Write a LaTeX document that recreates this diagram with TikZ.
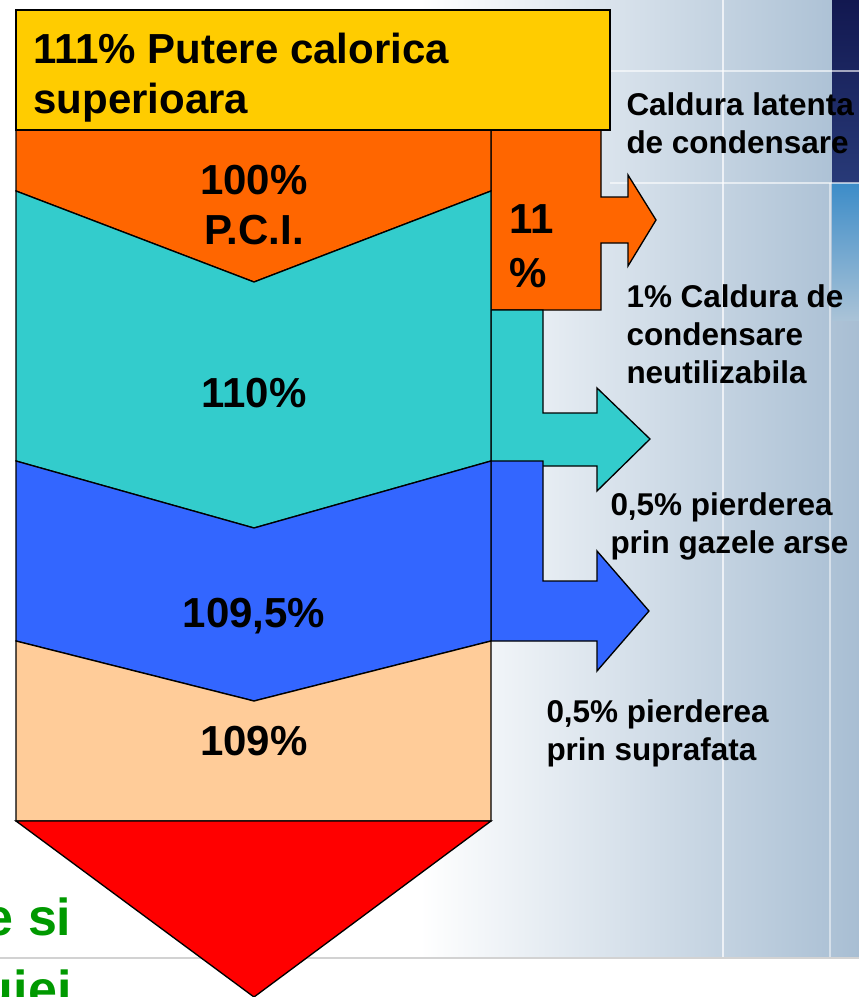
\documentclass[tikz,border=0pt]{standalone}
\usepackage{fontspec}
\setmainfont{Liberation Sans}

\tikzset{every picture/.style={line width=0.75pt}}
\tikzset{
  bigtxt/.style={font=\fontsize{31.5}{37.5}\selectfont\bfseries, inner sep=0pt},
  sidetxt/.style={font=\fontsize{23.6}{28.5}\selectfont\bfseries, inner sep=0pt, align=left, anchor=base west},
  titletxt/.style={font=\fontsize{39}{54}\selectfont\bfseries, text={rgb, 255:red, 0; green, 153; blue, 0}, inner sep=0pt, anchor=base east},
  band/.style={draw=black, line width=1pt, line join=miter},
}

\begin{document}
\begin{tikzpicture}[x=0.75pt,y=0.75pt,yscale=-1,xscale=1]
\useasboundingbox (0,0) rectangle (859,997);
\clip (0,0) rectangle (859,997);

%Background
\shade [left color=white, right color={rgb, 255:red, 168; green, 190; blue, 211}] (420,0) rectangle (859,958);
\shade [top color={rgb, 255:red, 18; green, 24; blue, 80}, bottom color={rgb, 255:red, 40; green, 58; blue, 120}] (832,0) rectangle (859,183);
\shade [top color={rgb, 255:red, 60; green, 140; blue, 200}, bottom color={rgb, 255:red, 170; green, 195; blue, 215}] (832,183) rectangle (859,320);
\draw [white, opacity=0.7, line width=1.5pt] (723,0) -- (723,958);
\draw [white, opacity=0.5, line width=1.5pt] (830,183) -- (830,958);
\draw [white, opacity=0.6, line width=1.5pt] (610,71) -- (859,71);
\draw [white, opacity=0.6, line width=1.5pt] (610,183) -- (859,183);
\draw [color={rgb, 255:red, 210; green, 210; blue, 210}, line width=1.5pt] (0,958) -- (859,958);

%Shape: Arrow 11%
\draw [band, fill={rgb, 255:red, 255; green, 102; blue, 0}] (491,130) -- (601,130) -- (601,197) -- (628,197) -- (628,175) -- (656,220) -- (628,266) -- (628,243) -- (601,243) -- (601,310) -- (491,310) -- cycle ;
%Shape: Arrow 1%
\draw [band, fill={rgb, 255:red, 51; green, 204; blue, 204}] (491,310) -- (543,310) -- (543,413) -- (597,413) -- (597,388) -- (650,439) -- (597,491) -- (597,466) -- (543,466) -- (491,466) -- cycle ;
%Shape: Arrow 0,5% gaze
\draw [band, fill={rgb, 255:red, 51; green, 102; blue, 255}] (491,461) -- (543,461) -- (543,581) -- (597,581) -- (597,551) -- (649,611) -- (597,671) -- (597,641) -- (491,641) -- cycle ;

%Shape: Polygon 100%
\draw [band, fill={rgb, 255:red, 255; green, 102; blue, 0}] (16,130) -- (491,130) -- (491,191) -- (254,282) -- (16,191) -- cycle ;
%Shape: Polygon 110%
\draw [band, fill={rgb, 255:red, 51; green, 204; blue, 204}] (16,191) -- (254,282) -- (491,191) -- (491,461) -- (254,528) -- (16,461) -- cycle ;
%Shape: Polygon 109,5%
\draw [band, fill={rgb, 255:red, 51; green, 102; blue, 255}] (16,461) -- (254,528) -- (491,461) -- (491,641) -- (254,701) -- (16,641) -- cycle ;
%Shape: Polygon 109%
\draw [band, fill={rgb, 255:red, 255; green, 204; blue, 153}] (16,641) -- (254,701) -- (491,641) -- (491,821) -- (16,821) -- cycle ;
%Shape: Triangle
\draw [band, fill={rgb, 255:red, 255; green, 0; blue, 0}] (16,821) -- (491,821) -- (254,997) -- cycle ;
%Shape: Rectangle
\draw [band, fill={rgb, 255:red, 255; green, 204; blue, 0}] (16,10) -- (610,10) -- (610,130) -- (16,130) -- cycle ;

% Text Node
\draw (33,113) node (pcs) [bigtxt, align=left, anchor=base west] {111\% Putere calorica\\superioara};
% Text Node
\draw (254,244) node (pci) [bigtxt, align=center, anchor=base] {100\%\\P.C.I.};
% Text Node
\draw (509,287) node (lat) [bigtxt, align=left, anchor=base west, font=\fontsize{31.5}{40.5}\selectfont\bfseries] {11\\\%};
% Text Node
\draw (254,407) node (p110) [bigtxt, anchor=base] {110\%};
% Text Node
\draw (254,627) node (p1095) [bigtxt, anchor=base] {109,5\%};
% Text Node
\draw (254,755) node (p109) [bigtxt, anchor=base] {109\%};

% Text Node
\draw (626,153) node (cl) [sidetxt] {Caldura latenta\\de condensare};
% Text Node
\draw (626,383) node (cn) [sidetxt] {1\% Caldura de\\condensare\\neutilizabila};
% Text Node
\draw (610,553) node (pg) [sidetxt] {0,5\% pierderea\\prin gazele arse};
% Text Node
\draw (546,760) node (ps) [sidetxt] {0,5\% pierderea\\prin suprafata};

% Text Node
\draw (72,935) node (ts) [titletxt] {e si};
% Text Node
\draw (72,1007) node (tu) [titletxt] {uiei};

\end{tikzpicture}
\end{document}
